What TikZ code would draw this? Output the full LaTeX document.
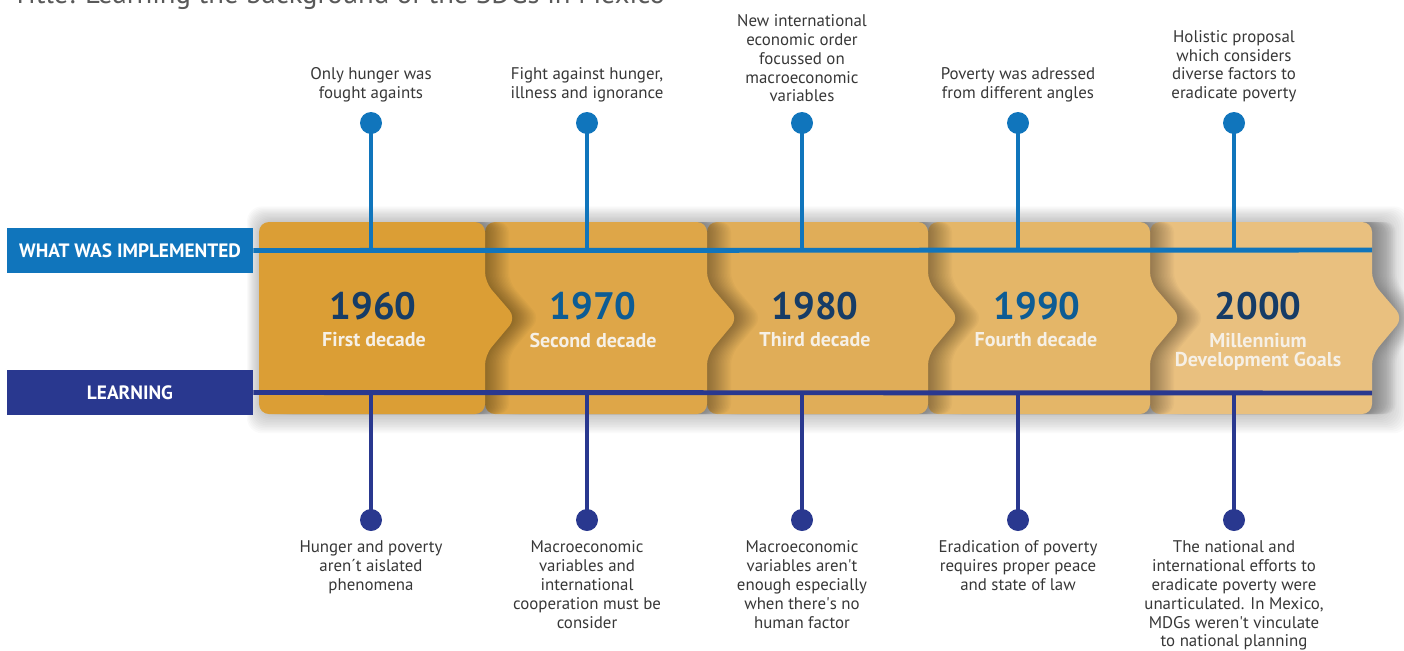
\documentclass[tikz,border=0pt]{standalone}
\usepackage{fontspec}
\setmainfont{PT Sans}
\usetikzlibrary{positioning,calc}

\definecolor{implblue}{RGB}{16,117,188}
\definecolor{learnnavy}{RGB}{41,56,143}
\definecolor{yeardark}{RGB}{22,60,102}
\definecolor{yearblue}{RGB}{13,92,148}
\definecolor{decwhite}{RGB}{246,240,230}
\definecolor{textgray}{RGB}{55,55,55}
\definecolor{panelA}{RGB}{219,158,53}
\definecolor{panelB}{RGB}{222,166,72}
\definecolor{panelC}{RGB}{224,173,88}
\definecolor{panelD}{RGB}{228,182,104}
\definecolor{panelE}{RGB}{233,192,127}

% chevron panel outline: left edge, right edge
\newcommand{\chev}[2]{(#1,222) -- (#2,222) -- (#2,282) -- ({#2+31},318) -- (#2,355) -- (#2,414) -- (#1,414) -- cycle}

\tikzset{
    toptext/.style={align=center, text=textgray, inner sep=0pt, font=\fontsize{9.6}{10.7}\selectfont},
    year/.style={font=\fontsize{21.8}{24}\selectfont\bfseries, inner sep=0pt},
    decade/.style={font=\fontsize{11.4}{10.6}\selectfont\bfseries, text=decwhite, align=center, inner sep=0pt},
    rowlabel/.style={font=\fontsize{11}{12}\selectfont\bfseries, text=white, minimum width=4.92cm, minimum height=0.9cm, inner sep=0pt},
    impldot/.style={circle, fill=implblue, minimum size=0.44cm, inner sep=0pt},
    learndot/.style={circle, fill=learnnavy, minimum size=0.44cm, inner sep=0pt},
    implline/.style={draw=implblue, line width=2.8pt},
    learnline/.style={draw=learnnavy, line width=2.8pt}
}

\begin{document}
\begin{tikzpicture}[x=0.02cm, y=-0.02cm]
    \useasboundingbox (0,0) rectangle (1404,650);

    % Title (cut at the top)
    \node[anchor=base west, inner sep=0pt, text=black!65, font=\fontsize{16.3}{20}\selectfont] (title) at (12,3) {Title: Learning the background of the SDGs in Mexico};

    % Haze round the panels
    \foreach \k in {1,...,12}
        \fill[black, opacity=0.018, rounded corners=0.3cm] (259-\k,222-\k*1.3) rectangle (1385+\k*2,414+\k*1.6);

    % Decade panels, right to left so each casts its shadow on the next
    \foreach \l/\r/\c in {1150/1372/panelE, 928/1150/panelD, 707/928/panelC, 485/707/panelB, 259/485/panelA} {
        \foreach \k in {1,...,16}
            \fill[black, opacity=0.022, rounded corners=0.2cm, shift={(\k*1.5,0)}] \chev{\l}{\r};
        \fill[\c, rounded corners=0.2cm] \chev{\l}{\r};
    }

    % Years
    \node[year, text=yeardark] (y1960) at (373,306) {1960};
    \node[year, text=yearblue] (y1970) at (593,306) {1970};
    \node[year, text=yeardark] (y1980) at (815,306) {1980};
    \node[year, text=yearblue] (y1990) at (1037,306) {1990};
    \node[year, text=yeardark] (y2000) at (1258,306) {2000};

    \node[decade] (d1960) at (374,340) {First decade};
    \node[decade] (d1970) at (593,340) {Second decade};
    \node[decade] (d1980) at (815,340) {Third decade};
    \node[decade] (d1990) at (1036,340) {Fourth decade};
    \node[decade, anchor=north] (d2000) at (1258,333) {Millennium\\Development Goals};

    % Row labels and lines
    \node[rowlabel, fill=implblue] (impl) at (130,250.5) {WHAT WAS IMPLEMENTED};
    \node[rowlabel, fill=learnnavy] (learn) at (130,392.5) {LEARNING};
    \coordinate (implend) at (1372,250);
    \coordinate (learnend) at (1372,393);

    % Stems and dots
    \foreach \x [count=\i] in {371,587,802,1018,1234} {
        \node[impldot] (td\i) at (\x,123) {};
        \node[learndot] (bd\i) at (\x,520) {};
        \draw[implline] (td\i.center) -- (td\i.center |- implend);
        \draw[learnline] (bd\i.center) -- (bd\i.center |- learnend);
    }
    \draw[implline] (impl.east) -- (implend);
    \draw[learnline] (learn.east) -- (learnend);

    % What was implemented
    \node[toptext, anchor=south] (w1) at (371,102.5) {Only hunger was\\fought againts};
    \node[toptext, anchor=south] (w2) at (587,102.5) {Fight against hunger,\\illness and ignorance};
    \node[toptext, anchor=south] (w3) at (802,102.5) {New international\\economic order\\focussed on\\macroeconomic\\variables};
    \node[toptext, anchor=south] (w4) at (1018,102.5) {Poverty was adressed\\from different angles};
    \node[toptext, anchor=south] (w5) at (1234,102.5) {Holistic proposal\\which considers\\diverse factors to\\eradicate poverty};

    % Learning
    \node[toptext, anchor=north] (l1) at (371,540.5) {Hunger and poverty\\aren´t aislated\\phenomena};
    \node[toptext, anchor=north] (l2) at (587,540.5) {Macroeconomic\\variables and\\international\\cooperation must be\\consider};
    \node[toptext, anchor=north] (l3) at (802,540.5) {Macroeconomic\\variables aren\textquotesingle t\\enough especially\\when there\textquotesingle s no\\human factor};
    \node[toptext, anchor=north] (l4) at (1018,540.5) {Eradication of poverty\\requires proper peace\\and state of law};
    \node[toptext, anchor=north] (l5) at (1234,540.5) {The national and\\international efforts to\\eradicate poverty were\\unarticulated. In Mexico,\\MDGs weren\textquotesingle t vinculate\\to national planning};
\end{tikzpicture}
\end{document}
